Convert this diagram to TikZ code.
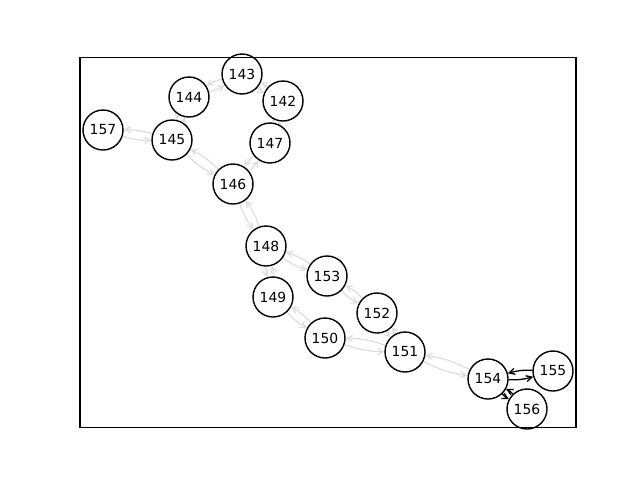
\documentclass[tikz,border=0pt]{standalone}
\usepackage{fontspec}
\setmainfont{DejaVu Sans}
\usetikzlibrary{arrows.meta,backgrounds}
\begin{document}
\begin{tikzpicture}[x=1pt,y=1pt,
  nd/.style={circle,draw=black,fill=white,line width=1.4pt,minimum size=40pt,inner sep=0pt,font=\fontsize{13.9}{16}\selectfont},
  ge/.style={draw=black!13,line width=1.25pt,-{Straight Barb[length=5.6pt,width=6pt]},bend right=9},
  be/.style={draw=black,line width=1.3pt,-{Straight Barb[length=5.6pt,width=6pt]},bend right=9}]
\useasboundingbox (0,0) rectangle (640,-480);
\node[nd] (n143) at (242,-74) {143};
\node[nd] (n144) at (189,-97) {144};
\node[nd] (n142) at (283,-101) {142};
\node[nd] (n157) at (103,-130) {157};
\node[nd] (n145) at (172,-140) {145};
\node[nd] (n147) at (270,-143) {147};
\node[nd] (n146) at (233,-184) {146};
\node[nd] (n148) at (266,-246) {148};
\node[nd] (n153) at (327,-276) {153};
\node[nd] (n149) at (273,-297) {149};
\node[nd] (n152) at (377,-313) {152};
\node[nd] (n150) at (325,-338) {150};
\node[nd] (n151) at (405,-352) {151};
\node[nd] (n154) at (488,-379) {154};
\node[nd] (n155) at (553,-371) {155};
\node[nd] (n156) at (527,-409) {156};
\begin{scope}[on background layer]
\foreach \a/\b in {143/144,143/142,144/145,145/157,145/146,146/147,147/142,146/148,148/149,148/153,149/150,153/152,152/151,150/151,151/154}{
  \draw[ge] (n\a) to (n\b);
  \draw[ge] (n\b) to (n\a);
}
\foreach \a/\b in {154/155,154/156}{
  \draw[be] (n\a) to (n\b);
  \draw[be] (n\b) to (n\a);
}
\end{scope}
\coordinate (fa) at (80,-57.6);
\coordinate (fb) at (576,-427.2);
\draw[line width=1.1pt] (fa) rectangle (fb);
\end{tikzpicture}
\end{document}
